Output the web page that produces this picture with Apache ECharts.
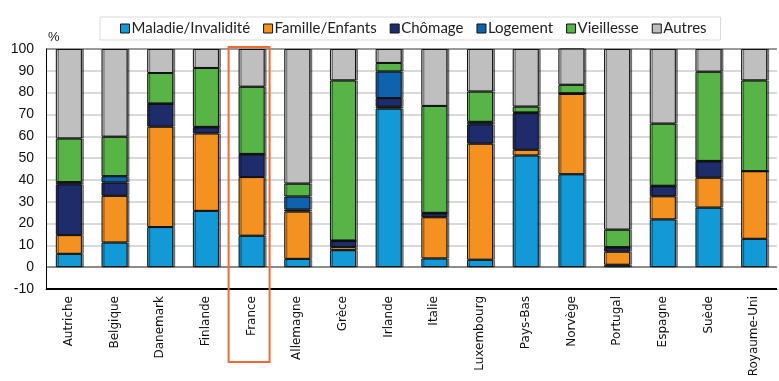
<!DOCTYPE html>
<html>
<head>
<meta charset="utf-8">
<script src="https://cdn.jsdelivr.net/npm/echarts@6/dist/echarts.min.js"></script>
<style>
html,body{margin:0;padding:0;background:#fff;}
#chart{width:779px;height:381px;}
</style>
</head>
<body>
<div id="chart"></div>
<script>
const categories = ['Autriche','Belgique','Danemark','Finlande','France','Allemagne','Grèce','Irlande','Italie','Luxembourg','Pays-Bas','Norvège','Portugal','Espagne','Suède','Royaume-Uni'];
const maladie    = [6.1, 11.3, 18.4, 25.8, 14.4, 3.8, 7.8, 72.7, 4.0, 3.4, 51.2, 42.6, 1.1, 21.9, 27.3, 13.0];
const famille    = [8.6, 21.4, 46.0, 35.5, 26.9, 21.7, 1.4, 0.8, 18.9, 53.2, 2.6, 36.8, 6.0, 10.6, 13.7, 31.0];
const chomage    = [23.3, 6.1, 10.4, 2.8, 10.4, 0.9, 2.8, 4.0, 1.8, 8.9, 16.8, 0.3, 1.9, 4.6, 7.5, 0.0];
const logement   = [1.0, 2.9, 0.2, 0.2, 0.2, 6.0, 0.2, 12.2, 0.2, 1.1, 0.3, 0.0, 0.2, 0.2, 0.2, 0.0];
const vieillesse = [20.0, 18.1, 14.0, 27.0, 30.8, 5.9, 73.4, 3.9, 49.0, 13.9, 2.7, 3.9, 8.0, 28.5, 40.9, 41.6];
const autres     = [41.0, 40.2, 11.0, 8.7, 17.3, 61.7, 14.4, 6.4, 26.1, 19.5, 26.4, 16.7, 82.8, 34.2, 10.4, 14.4];
const seriesNames = ['Maladie/Invalidité','Famille/Enfants','Chômage','Logement','Vieillesse','Autres'];
const seriesColors = ['#139ad6','#f39121','#1f2c6b','#0f63ae','#58b447','#bfbfbf'];
const yTicks = [-10,0,10,20,30,40,50,60,70,80,90,100];
const highlighted = 'France';

const values = [maladie, famille, chomage, logement, vieillesse, autres];
const font = 'Lato, "Open Sans", sans-serif';

const chart = echarts.init(document.getElementById('chart'), null, {renderer:'canvas'});
const gridColors = yTicks.map(v => v === 0 ? '#8c8c8c' : (v === 100 ? '#9a9a9a' : (v === -10 ? '#000000' : '#d9d9d9')));

const series = seriesNames.map((n, i) => ({
  name: n,
  type: 'bar',
  stack: 'total',
  barWidth: '57%',
  data: values[i],
  itemStyle: {
    color: seriesColors[i],
    borderColor: '#111',
    borderWidth: 1,
    shadowColor: 'rgba(0,0,0,0.45)',
    shadowOffsetX: 2,
    shadowBlur: 0
  },
  emphasis: {disabled: true}
}));

chart.setOption({
  animation: false,
  textStyle: {fontFamily: font},
  grid: {left: 46, right: 2, top: 49, bottom: 92, containLabel: false},
  legend: {
    data: seriesNames,
    left: 100, top: 17,
    icon: 'rect',
    itemWidth: 9, itemHeight: 9,
    itemGap: 13,
    padding: [4, 14, 4, 20],
    borderColor: '#d9d9d9', borderWidth: 1,
    backgroundColor: '#fff',
    textStyle: {fontFamily: font, fontSize: 15, color: '#222', padding: [0,0,0,-3]},
    itemStyle: {borderColor: '#111', borderWidth: 1}
  },
  xAxis: {
    type: 'category',
    data: categories,
    axisLine: {onZero: false, lineStyle: {color: '#000', width: 1}},
    axisTick: {show: false},
    axisLabel: {rotate: 90, fontSize: 12, color: '#111', margin: 7, fontFamily: '"DejaVu Sans", sans-serif', interval: 0},
    splitLine: {show: false}
  },
  yAxis: {
    type: 'value',
    min: -10, max: 100, interval: 10,
    name: '%',
    nameLocation: 'end',
    nameGap: 5,
    nameTextStyle: {align: 'left', fontSize: 13, color: '#222', fontFamily: '"Liberation Sans", Arial, sans-serif', padding: [0,0,0,2]},
    axisLine: {show: true, lineStyle: {color: '#000', width: 1}},
    axisTick: {show: false},
    axisLabel: {fontSize: 14, color: '#111', margin: 12, fontFamily: '"Liberation Sans", Arial, sans-serif'},
    splitLine: {show: true, lineStyle: {color: gridColors, width: 2}}
  },
  series: series
});

// orange highlight frame around the highlighted category, placed via the axis scales
const cx = chart.convertToPixel({xAxisIndex: 0}, highlighted);
const yTop = chart.convertToPixel({yAxisIndex: 0}, 100);
chart.setOption({
  graphic: [{
    type: 'rect',
    shape: {x: cx - 23, y: yTop - 2, width: 41, height: 362 - (yTop - 2)},
    style: {fill: 'none', stroke: '#f26a33', lineWidth: 2},
    z: 100
  }]
});
</script>
</body>
</html>
